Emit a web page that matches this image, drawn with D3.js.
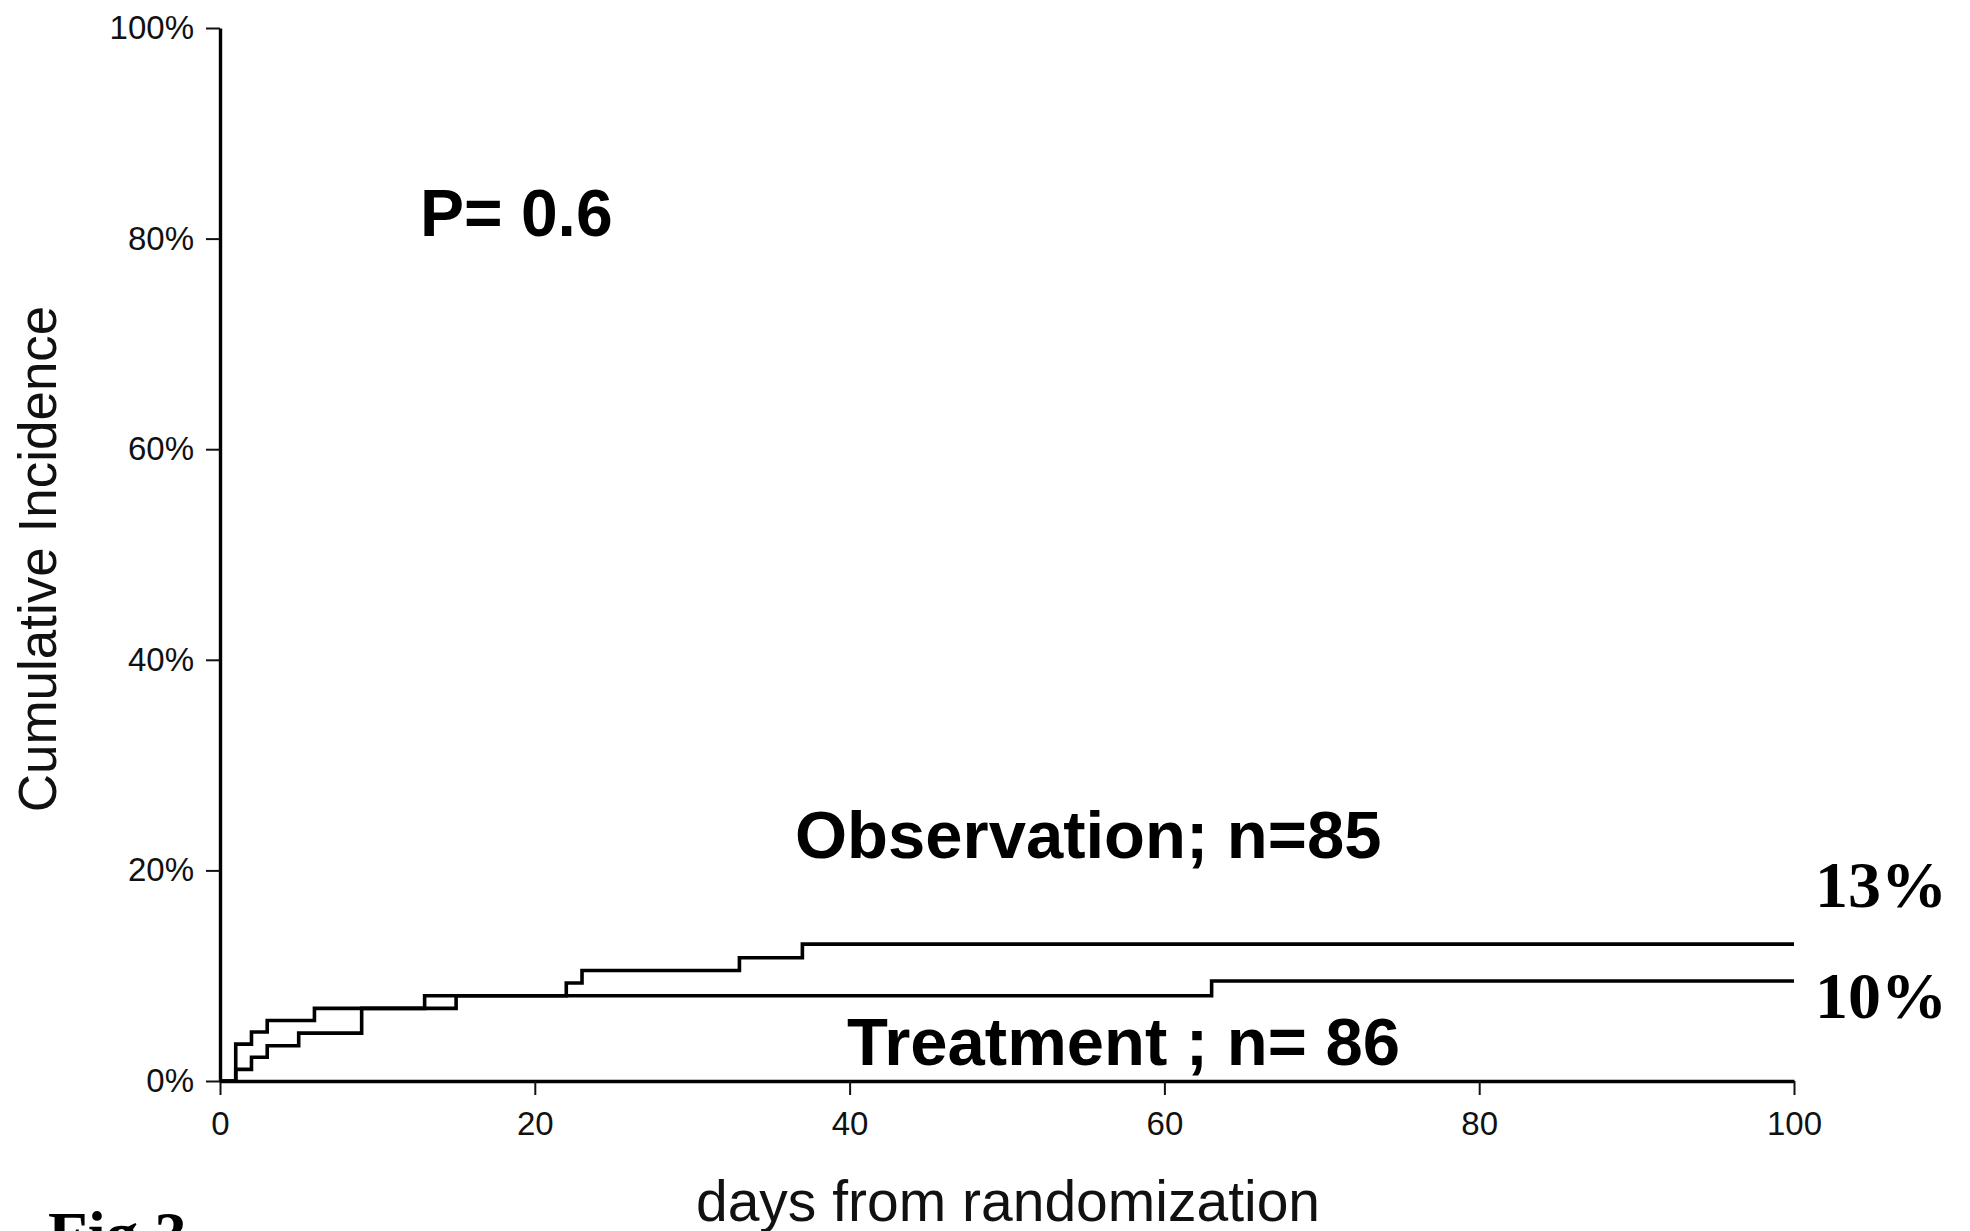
<!DOCTYPE html>
<html>
<head>
<meta charset="utf-8">
<script src="https://cdn.jsdelivr.net/npm/d3@7"></script>
<style>
  html, body { margin: 0; padding: 0; background: #fff; }
  svg { display: block; }
</style>
</head>
<body>
<svg id="chart" width="1970" height="1231"></svg>
<script>
// Cumulative incidence step curves (days from randomization, percent)
const observationDays   = [0, 1, 2, 3, 6, 13, 22, 23, 33, 37, 100];
const observationValues = [0, 3.5, 4.65, 5.75, 6.9, 8.1, 9.3, 10.5, 11.7, 13.0, 13.0];

const treatmentDays   = [0, 1, 2, 3, 5, 9, 15, 63, 100];
const treatmentValues = [0, 1.1, 2.25, 3.35, 4.55, 6.9, 8.1, 9.5, 9.5];

const xTicks = [0, 20, 40, 60, 80, 100];
const yTicks = [0, 20, 40, 60, 80, 100];

const seriesLabels = ["Observation; n=85", "Treatment ; n= 86"];
const pValueLabel = "P= 0.6";
const figureLabel = "Fig 3";

const SANS = "'Liberation Sans', Arial, Helvetica, sans-serif";
const SERIF = "'Liberation Serif', 'Times New Roman', Times, serif";

const svg = d3.select("#chart");

const x = d3.scaleLinear().domain([0, 100]).range([220, 1794]);
const y = d3.scaleLinear().domain([0, 100]).range([1081, 28]);

// Axes
const xAxis = d3.axisBottom(x)
  .tickValues(xTicks)
  .tickSize(14)
  .tickSizeOuter(0)
  .tickPadding(17)
  .tickFormat(d3.format("d"));

const yAxis = d3.axisLeft(y)
  .tickValues(yTicks)
  .tickSize(14)
  .tickSizeOuter(0)
  .tickPadding(12)
  .tickFormat(d => d + "%");

const gx = svg.append("g")
  .attr("transform", `translate(0,${y(0)})`)
  .call(xAxis);

const gy = svg.append("g")
  .attr("transform", `translate(${x(0)},0)`)
  .call(yAxis);

[gx, gy].forEach(g => {
  g.select(".domain").attr("stroke", "#000").attr("stroke-width", 3.4);
  g.selectAll(".tick line").attr("stroke", "#111").attr("stroke-width", 2);
  g.selectAll(".tick text")
    .attr("fill", "#111")
    .style("font-family", SANS)
    .style("font-size", "33px");
});

// Step curves
const stepLine = d3.line()
  .x(d => x(d[0]))
  .y(d => y(d[1]))
  .curve(d3.curveStepAfter);

const obsPoints = d3.zip(observationDays, observationValues);
const trtPoints = d3.zip(treatmentDays, treatmentValues);

svg.append("path")
  .datum(trtPoints)
  .attr("d", stepLine)
  .attr("fill", "none")
  .attr("stroke", "#000")
  .attr("stroke-width", 3.6);

svg.append("path")
  .datum(obsPoints)
  .attr("d", stepLine)
  .attr("fill", "none")
  .attr("stroke", "#000")
  .attr("stroke-width", 3.6);

// Axis titles
svg.append("text")
  .attr("x", 1008)
  .attr("y", 1221)
  .attr("text-anchor", "middle")
  .style("font-family", SANS)
  .style("font-size", "57px")
  .attr("fill", "#111")
  .text("days from randomization");

svg.append("text")
  .attr("transform", "translate(56,559) rotate(-90)")
  .attr("text-anchor", "middle")
  .style("font-family", SANS)
  .style("font-size", "53px")
  .attr("fill", "#111")
  .text("Cumulative Incidence");

// Annotations
svg.append("text")
  .attr("x", 420).attr("y", 236)
  .style("font-family", SANS).style("font-weight", "bold").style("font-size", "66px")
  .attr("fill", "#000")
  .text(pValueLabel);

svg.append("text")
  .attr("x", 795).attr("y", 858)
  .style("font-family", SANS).style("font-weight", "bold").style("font-size", "67px")
  .attr("fill", "#000")
  .text(seriesLabels[0]);

svg.append("text")
  .attr("x", 847).attr("y", 1065)
  .style("font-family", SANS).style("font-weight", "bold").style("font-size", "67px")
  .attr("fill", "#000")
  .text(seriesLabels[1]);

// End-of-follow-up values
const endLabels = [
  { value: observationValues[observationValues.length - 1], baseline: 907 },
  { value: treatmentValues[treatmentValues.length - 1], baseline: 1018 }
];
svg.selectAll("text.endval")
  .data(endLabels)
  .enter().append("text")
  .attr("class", "endval")
  .attr("x", 1815)
  .attr("y", d => d.baseline)
  .style("font-family", SERIF).style("font-weight", "bold").style("font-size", "66px")
  .attr("fill", "#000")
  .text(d => Math.round(d.value) + "%");

svg.append("text")
  .attr("x", 48).attr("y", 1257)
  .style("font-family", SERIF).style("font-weight", "bold").style("font-size", "65px")
  .attr("fill", "#000")
  .text(figureLabel);
</script>
</body>
</html>
